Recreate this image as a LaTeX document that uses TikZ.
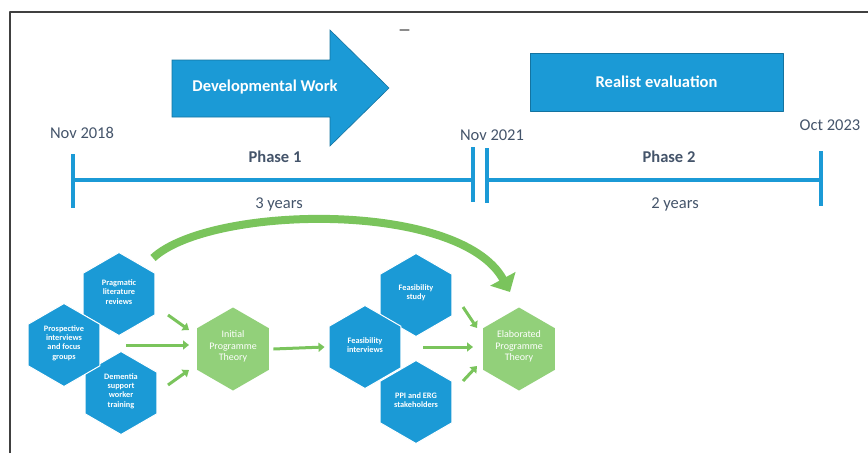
\documentclass[tikz,border=0pt]{standalone}
\usepackage{fontspec}
\setmainfont{Carlito}
\usetikzlibrary{arrows.meta,shapes.geometric}

\definecolor{hexblue}{RGB}{27,154,214}
\definecolor{hexgreen}{RGB}{146,208,122}
\definecolor{flowgreen}{RGB}{122,196,92}
\definecolor{labelgrey}{RGB}{68,84,106}

% text inside a hexagon, kept from resizing the shape
\newcommand{\hextext}[1]{\makebox[0pt]{\smash{\parbox[c]{70pt}{\centering #1}}}}

\begin{document}
\begin{tikzpicture}[line cap=round,line join=round,x=1pt,y=-1pt,
  every node/.style={text=labelgrey, font=\fontsize{16.5}{19}\selectfont},
  hexbox/.style={regular polygon, regular polygon sides=6, shape border rotate=30,
    minimum size=83pt, inner sep=0pt, fill=hexblue, draw=white, line width=1,
    text=white, font=\fontsize{8.3}{9.3}\selectfont\bfseries},
  theory/.style={hexbox, fill=hexgreen, draw=none, font=\fontsize{10}{11.2}\selectfont},
  feed/.style={draw=flowgreen, line width=3, line cap=butt, -{Triangle[length=6pt,width=9pt]}},
  tick/.style={draw=hexblue, line width=4.5, line cap=butt}]

\useasboundingbox (0,0) rectangle (868,455);

% timeline specifications
\def\ty{180} % height of the time axis
\def\ta{73}  % start, Nov 2018
\def\tm{473} % end of phase 1
\def\tn{487} % start of phase 2
\def\tz{821} % end, Oct 2023

% frame and stray mark
\draw[line width=1.5, black!75, line cap=butt] (10,453) -- (10,12) -- (868,12);
\draw[line width=1.2, black!45] (400,30) -- (409,30);

% developmental work arrow
\filldraw[fill=hexblue, draw=hexblue!75!black, line width=0.6, line join=miter]
  (172,60) -- (330,60) -- (330,30) -- (389,88) -- (330,146) -- (330,117) -- (172,117) -- cycle;
\node[text=white, font=\fontsize{16.5}{19}\selectfont\bfseries] (dev) at (265,87) {Developmental Work};

% realist evaluation box
\node[fill=hexblue, draw=hexblue!75!black, line width=0.6, minimum width=253pt, minimum height=58pt,
  text=white, font=\fontsize{16.5}{19}\selectfont\bfseries] (real) at (656.5,82) {Realist evaluation};

% time axis and bars
\draw[tick] (\ta,\ty) -- (\tm,\ty) (\tn,\ty) -- (\tz,\ty);
\foreach \x/\a/\b in {\ta/154/208, \tm/147/202, \tn/148/203, \tz/151/206}
  \draw[tick] (\x,\a) -- (\x,\b);

% dates, phases and durations
\node (d1) at (82,133) {Nov 2018};
\node (d2) at (492,135) {Nov 2021};
\node (d3) at (830,125) {Oct 2023};
\node[font=\fontsize{16.5}{19}\selectfont\bfseries] (ph1) at (275,157) {Phase 1};
\node[font=\fontsize{16.5}{19}\selectfont\bfseries] (ph2) at (669,157) {Phase 2};
\node (yr1) at (279,204) {3 years};
\node (yr2) at (675,204) {2 years};

% phase 1 hexagons
\node[hexbox] (prag) at (119,294) {\hextext{Pragmatic\\literature\\reviews}};
\node[hexbox] (dem) at (121,393) {\hextext{Dementia\\support\\worker\\training}};
\node[hexbox] (pros) at (64,345) {\hextext{Prospective\\interviews\\and focus\\groups}};
\node[theory] (init) at (233,349) {\hextext{Initial\\Programme\\Theory}};

% phase 2 hexagons
\node[hexbox] (study) at (416,295) {\hextext{Feasibility\\study}};
\node[hexbox] (ppi) at (416,402) {\hextext{PPI and ERG\\stakeholders}};
\node[hexbox] (fint) at (365,347) {\hextext{Feasibility\\interviews}};
\node[theory] (elab) at (519,349) {\hextext{Elaborated\\Programme\\Theory}};

% free ends of the feeding arrows
\coordinate (a1) at (168,315); \coordinate (b1) at (189,330);
\coordinate (a2) at (126,345); \coordinate (b2) at (189,345);
\coordinate (a3) at (168,385); \coordinate (b3) at (189,370);
\coordinate (c1) at (463,307); \coordinate (e1) at (477,328);
\coordinate (c2) at (423,347); \coordinate (e2) at (473,347);
\coordinate (c3) at (463,381); \coordinate (e3) at (477,366);
\foreach \i in {1,2,3}{
  \draw[feed] (a\i) -- (b\i);
  \draw[feed] (c\i) -- (e\i);
}
\draw[feed] ([xshift=4]init.east) -- ([xshift=-4]fint.west);

% big curved arrow over the top
\coordinate (arcstart) at (153,258);
\coordinate (arcend) at (510,292);
\draw[flowgreen, line width=8, line cap=butt, -{Triangle[length=15pt,width=28pt]}]
  (arcstart) .. controls (210,205) and (460,200) .. (arcend);

\end{tikzpicture}
\end{document}
